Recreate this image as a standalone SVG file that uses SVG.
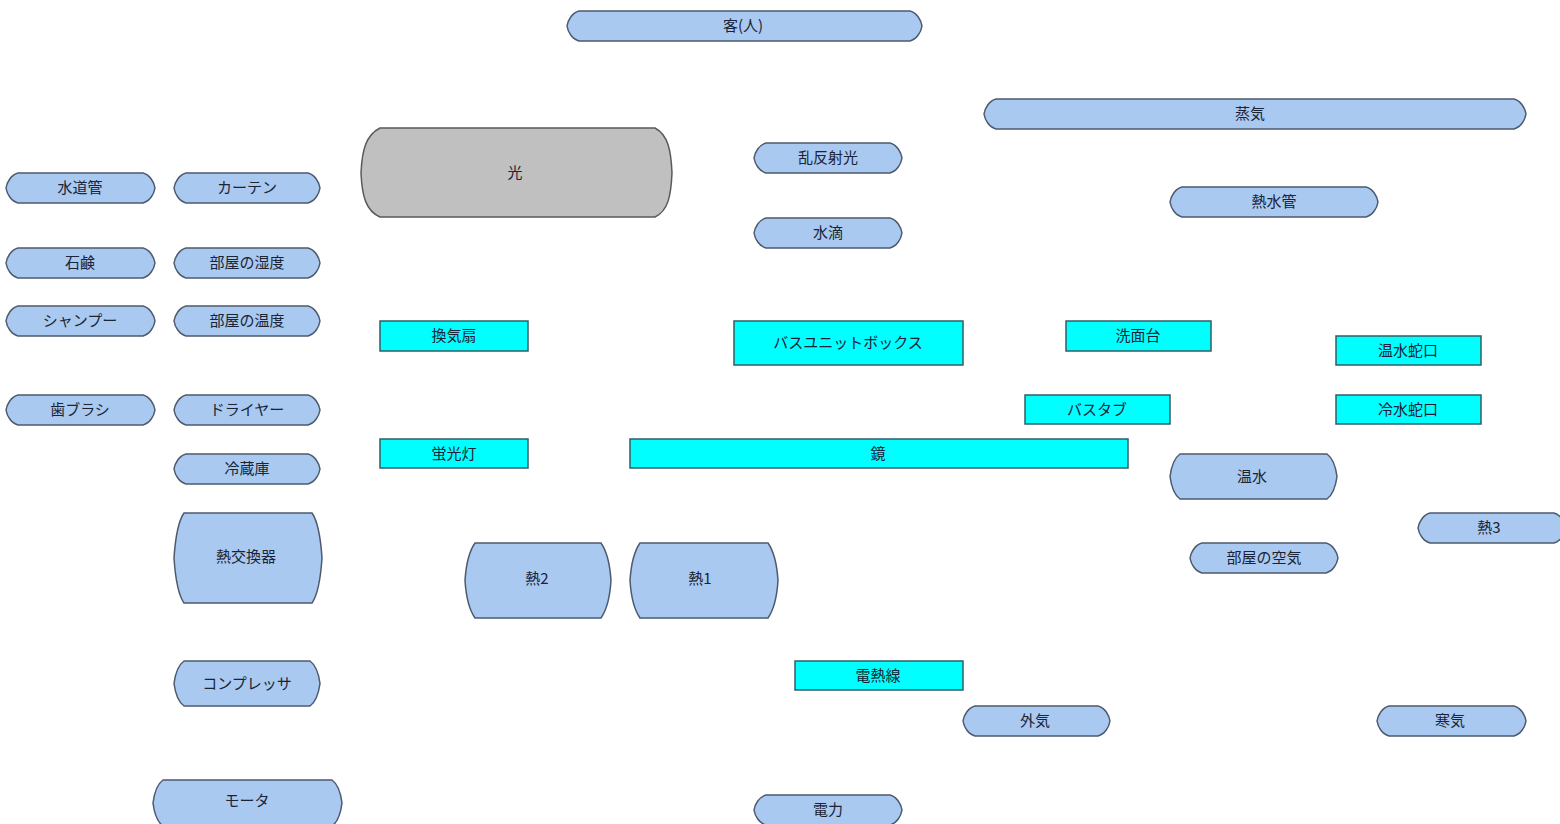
<svg xmlns="http://www.w3.org/2000/svg" width="1560" height="824" viewBox="0 0 1560 824">
<style>
.b{fill:#a9c9f0;stroke:#4d5a6e;stroke-width:1.5}
.c{fill:#00ffff;stroke:#2f5f66;stroke-width:1.5}
.g{fill:#c0c0c0;stroke:#5a5a5a;stroke-width:1.5}
text{font-family:"Noto Sans CJK JP","Noto Sans",sans-serif;font-size:15px;fill:#1a2436;text-anchor:middle;dominant-baseline:central}
</style>
<rect width="1560" height="824" fill="#ffffff"/>
<g id="connectors"/>
<g id="n-kyaku"><path class="b" d="M579,11 H910 C917,13 921,20 922,26 C921,32 917,39 910,41 H579 C572,39 568,32 567,26 C568,20 572,13 579,11Z"/><text x="743" y="24">客(人)</text></g>
<g id="n-jouki"><path class="b" d="M996,99 H1514 C1521,101 1525,108 1526,114 C1525,120 1521,127 1514,129 H996 C989,127 985,120 984,114 C985,108 989,101 996,99Z"/><text x="1250" y="112">蒸気</text></g>
<g id="n-hikari"><path class="g" d="M380,128 H655 C668,135 671,150 672,173 C671,196 668,211 655,217 H380 C366,211 362,196 361,173 C362,150 366,135 380,128Z"/><text x="515" y="171">光</text></g>
<g id="n-ranhansha"><path class="b" d="M766,143 H890 C897,145 901,152 902,158 C901,164 897,171 890,173 H766 C759,171 755,164 754,158 C755,152 759,145 766,143Z"/><text x="828" y="156">乱反射光</text></g>
<g id="n-suiteki"><path class="b" d="M766,218 H890 C897,220 901,227 902,233 C901,239 897,246 890,248 H766 C759,246 755,239 754,233 C755,227 759,220 766,218Z"/><text x="828" y="231">水滴</text></g>
<g id="n-nessuikan"><path class="b" d="M1182,187 H1366 C1373,189 1377,196 1378,202 C1377,208 1373,215 1366,217 H1182 C1175,215 1171,208 1170,202 C1171,196 1175,189 1182,187Z"/><text x="1274" y="200">熱水管</text></g>
<g id="n-suidoukan"><path class="b" d="M18,173 H143 C150,175 154,182 155,188 C154,194 150,201 143,203 H18 C11,201 7,194 6,188 C7,182 11,175 18,173Z"/><text x="80" y="186">水道管</text></g>
<g id="n-curtain"><path class="b" d="M186,173 H308 C315,175 319,182 320,188 C319,194 315,201 308,203 H186 C179,201 175,194 174,188 C175,182 179,175 186,173Z"/><text x="247" y="186">カーテン</text></g>
<g id="n-sekken"><path class="b" d="M18,248 H143 C150,250 154,257 155,263 C154,269 150,276 143,278 H18 C11,276 7,269 6,263 C7,257 11,250 18,248Z"/><text x="80" y="261">石鹸</text></g>
<g id="n-shitsudo"><path class="b" d="M186,248 H308 C315,250 319,257 320,263 C319,269 315,276 308,278 H186 C179,276 175,269 174,263 C175,257 179,250 186,248Z"/><text x="247" y="261">部屋の湿度</text></g>
<g id="n-shampoo"><path class="b" d="M18,306 H143 C150,308 154,315 155,321 C154,327 150,334 143,336 H18 C11,334 7,327 6,321 C7,315 11,308 18,306Z"/><text x="80" y="319">シャンプー</text></g>
<g id="n-ondo"><path class="b" d="M186,306 H308 C315,308 319,315 320,321 C319,327 315,334 308,336 H186 C179,334 175,327 174,321 C175,315 179,308 186,306Z"/><text x="247" y="319">部屋の温度</text></g>
<g id="n-haburashi"><path class="b" d="M18,395 H143 C150,397 154,404 155,410 C154,416 150,423 143,425 H18 C11,423 7,416 6,410 C7,404 11,397 18,395Z"/><text x="80" y="408">歯ブラシ</text></g>
<g id="n-dryer"><path class="b" d="M186,395 H308 C315,397 319,404 320,410 C319,416 315,423 308,425 H186 C179,423 175,416 174,410 C175,404 179,397 186,395Z"/><text x="247" y="408">ドライヤー</text></g>
<g id="n-reizouko"><path class="b" d="M186,454 H308 C315,456 319,463 320,469 C319,475 315,482 308,484 H186 C179,482 175,475 174,469 C175,463 179,456 186,454Z"/><text x="247" y="467">冷蔵庫</text></g>
<g id="n-netsukoukanki"><path class="b" d="M184,513 H312 C319,523 321,543 322,558 C321,573 319,593 312,603 H184 C177,593 175,573 174,558 C175,543 177,523 184,513Z"/><text x="246" y="555">熱交換器</text></g>
<g id="n-compressor"><path class="b" d="M184,661 H310 C317,666 319,676 320,683.5 C319,691 317,701 310,706 H184 C177,701 175,691 174,683.5 C175,676 177,666 184,661Z"/><text x="247" y="682">コンプレッサ</text></g>
<g id="n-motor"><path class="b" d="M163,780 H332 C339,785 341,795 342,803 C341,811 339,821 332,826 H163 C156,821 154,811 153,803 C154,795 156,785 163,780Z"/><text x="247" y="799">モータ</text></g>
<g id="n-kankisen"><rect class="c" x="380" y="321" width="148" height="30"/><text x="454" y="334">換気扇</text></g>
<g id="n-bathunit"><rect class="c" x="734" y="321" width="229" height="44"/><text x="848" y="341">バスユニットボックス</text></g>
<g id="n-senmendai"><rect class="c" x="1066" y="321" width="145" height="30"/><text x="1138" y="334">洗面台</text></g>
<g id="n-onsuijaguchi"><rect class="c" x="1336" y="336" width="145" height="29"/><text x="1408" y="349">温水蛇口</text></g>
<g id="n-bathtub"><rect class="c" x="1025" y="395" width="145" height="29"/><text x="1097" y="408">バスタブ</text></g>
<g id="n-reisuijaguchi"><rect class="c" x="1336" y="395" width="145" height="29"/><text x="1408" y="408">冷水蛇口</text></g>
<g id="n-keikoutou"><rect class="c" x="380" y="439" width="148" height="29"/><text x="454" y="452">蛍光灯</text></g>
<g id="n-kagami"><rect class="c" x="630" y="439" width="498" height="29"/><text x="878" y="452">鏡</text></g>
<g id="n-onsui"><path class="b" d="M1180,454 H1327 C1334,459 1336,469 1337,476.5 C1336,484 1334,494 1327,499 H1180 C1173,494 1171,484 1170,476.5 C1171,469 1173,459 1180,454Z"/><text x="1252" y="475">温水</text></g>
<g id="n-netsu3"><path class="b" d="M1430,513 H1554 C1561,515 1565,522 1566,528 C1565,534 1561,541 1554,543 H1430 C1423,541 1419,534 1418,528 C1419,522 1423,515 1430,513Z"/><text x="1489" y="526">熱3</text></g>
<g id="n-kuuki"><path class="b" d="M1202,543 H1326 C1333,545 1337,552 1338,558 C1337,564 1333,571 1326,573 H1202 C1195,571 1191,564 1190,558 C1191,552 1195,545 1202,543Z"/><text x="1264" y="556">部屋の空気</text></g>
<g id="n-netsu2"><path class="b" d="M475,543 H601 C608,553 610,565 611,580.5 C610,596 608,608 601,618 H475 C468,608 466,596 465,580.5 C466,565 468,553 475,543Z"/><text x="537" y="577">熱2</text></g>
<g id="n-netsu1"><path class="b" d="M640,543 H768 C775,553 777,565 778,580.5 C777,596 775,608 768,618 H640 C633,608 631,596 630,580.5 C631,565 633,553 640,543Z"/><text x="700" y="577">熱1</text></g>
<g id="n-dennetsusen"><rect class="c" x="795" y="661" width="168" height="29"/><text x="878" y="674">電熱線</text></g>
<g id="n-gaiki"><path class="b" d="M975,706 H1098 C1105,708 1109,715 1110,721 C1109,727 1105,734 1098,736 H975 C968,734 964,727 963,721 C964,715 968,708 975,706Z"/><text x="1035" y="719">外気</text></g>
<g id="n-kanki"><path class="b" d="M1389,706 H1514 C1521,708 1525,715 1526,721 C1525,727 1521,734 1514,736 H1389 C1382,734 1378,727 1377,721 C1378,715 1382,708 1389,706Z"/><text x="1450" y="719">寒気</text></g>
<g id="n-denryoku"><path class="b" d="M766,795 H890 C897,797 901,804 902,810 C901,816 897,823 890,825 H766 C759,823 755,816 754,810 C755,804 759,797 766,795Z"/><text x="828" y="808">電力</text></g>
</svg>
